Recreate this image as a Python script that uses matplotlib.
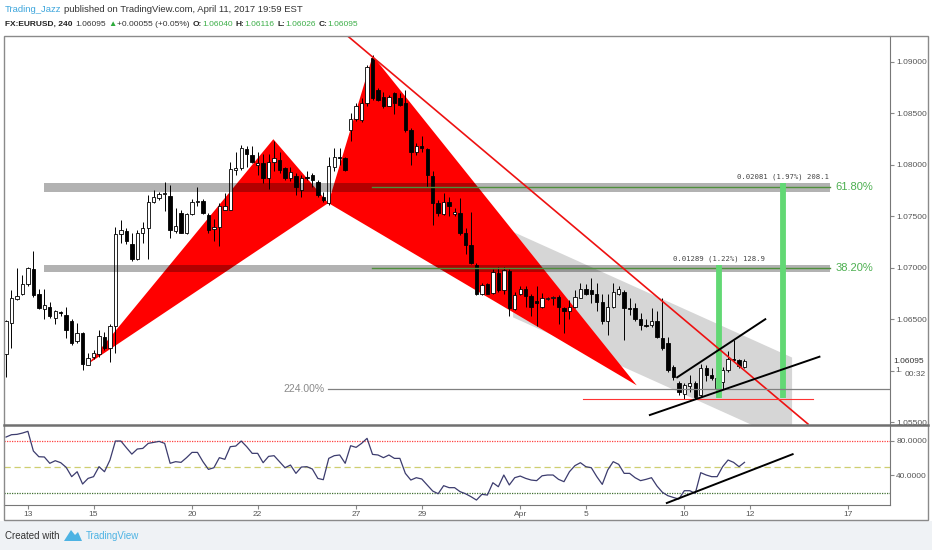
import numpy as np
import matplotlib.pyplot as plt
from matplotlib import font_manager
from matplotlib.patches import Rectangle, Polygon
from matplotlib.lines import Line2D

plt.rcParams['font.family'] = ['Liberation Sans', 'DejaVu Sans']
installed = {f.name for f in font_manager.fontManager.ttflist}
head_font = 'Liberation Sans Narrow' if 'Liberation Sans Narrow' in installed else 'Liberation Sans'

# EURUSD 240 candles
opens = [1.0616, 1.0647, 1.0670, 1.0675, 1.0684, 1.0699, 1.0675, 1.0660, 1.0662, 1.0651,
         1.0657, 1.0654, 1.0648, 1.0629, 1.0637, 1.0606, 1.0614, 1.0616, 1.0633, 1.0622,
         1.0644, 1.0733, 1.0736, 1.0723, 1.0709, 1.0734, 1.0739, 1.0764, 1.0768, 1.0772,
         1.0770, 1.0736, 1.0753, 1.0734, 1.0752, 1.0764, 1.0765, 1.0751, 1.0738, 1.0740,
         1.0756, 1.0756, 1.0795, 1.0797, 1.0815, 1.0810, 1.0800, 1.0802, 1.0787, 1.0803,
         1.0805, 1.0797, 1.0787, 1.0789, 1.0776, 1.0788, 1.0790, 1.0783, 1.0769, 1.0763,
         1.0798, 1.0808, 1.0807, 1.0834, 1.0845, 1.0844, 1.0860, 1.0904, 1.0873, 1.0866,
         1.0857, 1.0870, 1.0865, 1.0860, 1.0834, 1.0813, 1.0818, 1.0815, 1.0789, 1.0763,
         1.0752, 1.0764, 1.0752, 1.0753, 1.0734, 1.0722, 1.0703, 1.0675, 1.0684, 1.0676,
         1.0695, 1.0679, 1.0697, 1.0660, 1.0675, 1.0680, 1.0673, 1.0668, 1.0662, 1.0670,
         1.0671, 1.0672, 1.0661, 1.0658, 1.0662, 1.0671, 1.0680, 1.0679, 1.0675, 1.0667,
         1.0648, 1.0662, 1.0675, 1.0677, 1.0661, 1.0661, 1.0650, 1.0645, 1.0645, 1.0648,
         1.0632, 1.0627, 1.0604, 1.0588, 1.0578, 1.0585, 1.0588, 1.0577, 1.0603, 1.0596,
         1.0583, 1.0589, 1.0601, 1.0612, 1.0611, 1.0604]
highs = [1.0649, 1.0679, 1.0700, 1.0693, 1.0701, 1.0716, 1.0680, 1.0680, 1.0667, 1.0659,
         1.0658, 1.0662, 1.0650, 1.0647, 1.0638, 1.0617, 1.0620, 1.0640, 1.0638, 1.0646,
         1.0740, 1.0747, 1.0739, 1.0734, 1.0737, 1.0745, 1.0771, 1.0776, 1.0774, 1.0783,
         1.0781, 1.0758, 1.0756, 1.0753, 1.0767, 1.0779, 1.0767, 1.0753, 1.0748, 1.0763,
         1.0773, 1.0803, 1.0813, 1.0819, 1.0818, 1.0818, 1.0813, 1.0811, 1.0811, 1.0823,
         1.0813, 1.0798, 1.0798, 1.0792, 1.0790, 1.0794, 1.0792, 1.0785, 1.0774, 1.0808,
         1.0816, 1.0816, 1.0808, 1.0850, 1.0860, 1.0865, 1.0897, 1.0907, 1.0875, 1.0871,
         1.0868, 1.0871, 1.0870, 1.0873, 1.0836, 1.0821, 1.0828, 1.0816, 1.0794, 1.0766,
         1.0773, 1.0769, 1.0758, 1.0768, 1.0739, 1.0754, 1.0705, 1.0685, 1.0685, 1.0699,
         1.0701, 1.0701, 1.0699, 1.0677, 1.0682, 1.0682, 1.0675, 1.0682, 1.0676, 1.0672,
         1.0673, 1.0674, 1.0662, 1.0669, 1.0679, 1.0685, 1.0684, 1.0690, 1.0685, 1.0675,
         1.0675, 1.0685, 1.0682, 1.0679, 1.0671, 1.0666, 1.0656, 1.0650, 1.0661, 1.0658,
         1.0671, 1.0633, 1.0606, 1.0590, 1.0588, 1.0596, 1.0590, 1.0607, 1.0606, 1.0603,
         1.0598, 1.0604, 1.0619, 1.0630, 1.0612, 1.06116]
lows = [1.0594, 1.0622, 1.0669, 1.0674, 1.0682, 1.0672, 1.0660, 1.0650, 1.0651, 1.0646,
        1.0653, 1.0632, 1.0625, 1.0627, 1.0601, 1.0606, 1.0612, 1.0614, 1.0620, 1.0609,
        1.0617, 1.0724, 1.0723, 1.0707, 1.0708, 1.0724, 1.0709, 1.0763, 1.0766, 1.0755,
        1.0729, 1.0734, 1.0734, 1.0733, 1.0751, 1.0760, 1.0752, 1.0734, 1.0726, 1.0721,
        1.0756, 1.0756, 1.0790, 1.0795, 1.0798, 1.0802, 1.0790, 1.0782, 1.0777, 1.0794,
        1.0792, 1.0785, 1.0784, 1.0771, 1.0769, 1.0785, 1.0779, 1.0769, 1.0764, 1.0761,
        1.0794, 1.0800, 1.0794, 1.0823, 1.0843, 1.0842, 1.0857, 1.0863, 1.0862, 1.0855,
        1.0857, 1.0849, 1.0857, 1.0832, 1.0800, 1.0810, 1.0813, 1.0779, 1.0742, 1.0750,
        1.0751, 1.0750, 1.0750, 1.0732, 1.0714, 1.0704, 1.0674, 1.0674, 1.0675, 1.0675,
        1.0677, 1.0675, 1.0653, 1.0659, 1.0674, 1.0662, 1.0653, 1.0644, 1.0661, 1.0669,
        1.0664, 1.0646, 1.0637, 1.0650, 1.0661, 1.0671, 1.0674, 1.0666, 1.0658, 1.0646,
        1.0635, 1.0661, 1.0674, 1.0630, 1.0654, 1.0648, 1.0640, 1.0643, 1.0643, 1.0632,
        1.0620, 1.0599, 1.0591, 1.0577, 1.0573, 1.0580, 1.0573, 1.0575, 1.0590, 1.0591,
        1.0582, 1.0582, 1.0599, 1.0609, 1.0603, 1.06026]
closes = [1.0648, 1.0671, 1.0673, 1.0684, 1.0700, 1.0674, 1.0661, 1.0664, 1.0653, 1.0658,
          1.0656, 1.0640, 1.0627, 1.0637, 1.0607, 1.0613, 1.0617, 1.0634, 1.0622, 1.0644,
          1.0733, 1.0737, 1.0726, 1.0709, 1.0734, 1.0739, 1.0764, 1.0769, 1.0772, 1.0773,
          1.0737, 1.0741, 1.0734, 1.0752, 1.0764, 1.0765, 1.0753, 1.0737, 1.0740, 1.0760,
          1.0760, 1.0796, 1.0797, 1.0816, 1.0811, 1.0803, 1.0802, 1.0787, 1.0803, 1.0807,
          1.0795, 1.0787, 1.0793, 1.0779, 1.0787, 1.0787, 1.0785, 1.0771, 1.0766, 1.0799,
          1.0808, 1.0807, 1.0795, 1.0845, 1.0857, 1.0860, 1.0895, 1.0865, 1.0863, 1.0857,
          1.0866, 1.0860, 1.0858, 1.0834, 1.0813, 1.0818, 1.0816, 1.0790, 1.0763, 1.0753,
          1.0764, 1.0760, 1.0754, 1.0734, 1.0722, 1.0705, 1.0675, 1.0683, 1.0675, 1.0696,
          1.0679, 1.0698, 1.0661, 1.0674, 1.0680, 1.0673, 1.0662, 1.0666, 1.0671, 1.0671,
          1.0672, 1.0662, 1.0658, 1.0662, 1.0672, 1.0680, 1.0675, 1.0675, 1.0667, 1.0648,
          1.0662, 1.0677, 1.0680, 1.0661, 1.0660, 1.0650, 1.0645, 1.0644, 1.0648, 1.0633,
          1.0622, 1.0601, 1.0594, 1.0580, 1.0586, 1.0588, 1.0575, 1.0603, 1.0596, 1.0593,
          1.0593, 1.0601, 1.0612, 1.0611, 1.0605, 1.06095]
rsi = [84.2, 86.9, 87.3, 88.8, 90.8, 68.1, 61.5, 61.2, 53.9, 56.9,
       54.6, 49.2, 38.5, 44.2, 30.0, 36.5, 38.5, 50.0, 44.2, 57.7,
       79.6, 79.6, 71.9, 64.5, 70.4, 71.1, 76.9, 78.1, 79.2, 76.9,
       53.9, 55.8, 55.0, 60.4, 66.5, 66.5, 55.8, 46.9, 48.8, 60.4,
       58.5, 73.1, 73.8, 79.6, 73.1, 65.4, 65.4, 54.6, 61.9, 62.7,
       55.8, 48.8, 51.9, 42.3, 49.6, 50.0, 47.3, 36.5, 35.0, 59.6,
       62.7, 63.5, 53.9, 74.2, 72.3, 76.9, 82.7, 64.2, 63.5, 60.4,
       63.5, 59.6, 59.6, 42.3, 34.6, 37.3, 35.8, 28.9, 21.9, 18.8,
       28.1, 25.8, 25.8, 21.2, 18.8, 15.4, 11.5, 18.1, 17.3, 31.5,
       26.9, 40.4, 28.9, 37.3, 39.2, 36.5, 34.6, 33.9, 39.5, 40.4,
       40.4, 35.4, 32.7, 44.2, 51.2, 54.6, 50.0, 48.8, 38.5, 29.6,
       46.2, 55.8, 52.7, 42.3, 42.3, 37.3, 33.9, 35.4, 37.3, 27.7,
       20.4, 16.5, 14.5, 12.7, 22.3, 22.3, 19.2, 43.1, 40.4, 38.5,
       38.5, 50.0, 57.7, 55.0, 50.0, 55.0]

day_labels = ['13', '15', '20', '22', '27', '29', 'Apr', '5', '10', '12', '17']
day_bars = [4, 16, 34, 46, 64, 76, 94, 106, 124, 136, 154]
price_ticks = [1.055, 1.060, 1.065, 1.070, 1.075, 1.080, 1.085, 1.090]
rsi_ticks = [40, 80]
last_price = 1.06095

# drawings (bar index, price)
xab_x = [15.05, 48.87, 58.92]
xab_y = [1.0607, 1.0825, 1.0763]
bcd_x = [58.92, 67.04, 115.3]
bcd_y = [1.0763, 1.0906, 1.0586]
channel_x = [92.7, 143.7, 143.7, 92.7]
channel_y = [1.0735, 1.0613, 1.0530, 1.0652]
fib_levels = [1.0700, 1.0779]
fib_names = ['38.20%', '61.80%']
band_lo = [1.0696, 1.0774]
band_hi = [1.0703, 1.0782]
range_bar_x = [130.3, 142.1]
range_base = 1.05737
range_text = ['0.01289 (1.22%) 128.9', '0.02081 (1.97%) 208.1']
red_trend_x = [62.5, 146.6]
red_trend_y = [1.0925, 1.05485]
wedge_top_x = [122.7, 138.8]
wedge_top_y = [1.05938, 1.06502]
wedge_bot_x = [117.7, 148.7]
wedge_bot_y = [1.05572, 1.06138]
ext_level = 1.05822
stop_level = 1.05725
rsi_trend_x = [120.8, 143.8]
rsi_trend_y = [8.1, 64.4]

W, H = 932, 550
fig = plt.figure(figsize=(W / 100, H / 100), dpi=100)
fig.patch.set_facecolor('white')


def box(x0, y0, x1, y1):
    return [x0 / W, 1 - y1 / H, (x1 - x0) / W, (y1 - y0) / H]


ax = fig.add_axes(box(4, 36, 890, 425))
ax2 = fig.add_axes(box(4, 425, 890, 505), sharex=ax)
x = np.arange(len(opens))

# gray channel, then the harmonic pattern, candles on top
ax.add_patch(Polygon(list(zip(channel_x, channel_y)), closed=True, fc='#d6d6d6', ec='none', zorder=1))
ax.fill(xab_x, xab_y, color='#ff0000', zorder=2, lw=0)
ax.fill(bcd_x, bcd_y, color='#ff0000', zorder=2, lw=0)

o = np.array(opens); c = np.array(closes)
up = c >= o
ax.vlines(x, lows, highs, color='black', lw=0.7, zorder=3)
ax.bar(x, np.maximum(np.abs(c - o), 0.00004), bottom=np.minimum(o, c), width=0.62,
       color=np.where(up, 'white', 'black'), edgecolor='black', linewidth=0.6, zorder=4)

# zones / fib levels
for lo, hi in zip(band_lo, band_hi):
    ax.add_patch(Rectangle((6.95, lo), 150.6 - 6.95, hi - lo, fc='black', alpha=0.3, ec='none', zorder=5))
for lvl, name in zip(fib_levels, fib_names):
    ax.plot([66.9, 150.6], [lvl, lvl], color='#4f8f3c', lw=1, zorder=6)
    ax.text(151.6, lvl, name, color='#4caf50', fontsize=8, va='center', ha='left', zorder=7)

# price range bars
for bx, top, txt in zip(range_bar_x, band_hi, range_text):
    ax.vlines(bx, range_base, top, color='#62d874', lw=4.2, zorder=6)
    ax.text(bx, top + 0.0003, txt, fontsize=5.2, family='DejaVu Sans Mono', color='#444444',
            ha='center', va='bottom', zorder=7)

ax.plot(red_trend_x, red_trend_y, color='#ee1111', lw=1.2, zorder=6)
ax.plot([105.5, 147.5], [stop_level, stop_level], color='#ff3333', lw=0.8, zorder=6)
ax.plot([58.9, 162], [ext_level, ext_level], color='#808080', lw=0.9, zorder=6)
ax.text(58.3, ext_level, '224.00%', color='#8a8a8a', fontsize=7.5, ha='right', va='center')
ax.plot(wedge_top_x, wedge_top_y, color='black', lw=1.4, zorder=7)
ax.plot(wedge_bot_x, wedge_bot_y, color='black', lw=1.4, zorder=7)

ax.set_xlim(-0.37, 161.6)
ax.set_ylim(1.05475, 1.09252)

# RSI panel
ax2.axhline(80, color='#ff4040', ls=(0, (1, 1)), lw=0.9)
ax2.axhline(50, color='#cfcf70', ls=(0, (5, 3)), lw=0.9)
ax2.axhline(20, color='#3f6f30', ls=(0, (1, 1)), lw=0.9)
ax2.plot(x, rsi, color='#3c3c6e', lw=0.9)
ax2.plot(rsi_trend_x, rsi_trend_y, color='black', lw=1.4)
ax2.set_ylim(5.8, 98.1)

for a in (ax, ax2):
    for s in a.spines.values():
        s.set_visible(False)
    a.spines['right'].set_visible(True)
    a.spines['right'].set_color('#777777')
    a.yaxis.tick_right()
    a.tick_params(axis='y', length=3, color='#888888', labelsize=6, labelcolor='#555555', pad=1.5)
ax2.spines['bottom'].set_visible(True)
ax2.spines['bottom'].set_color('#777777')

ax.set_yticks(price_ticks)
# the 1.06000 label sits under the last-price / countdown labels
ax.set_yticklabels(['' if abs(p - 1.06) < 1e-9 else '%.5f' % p for p in price_ticks])
ax.tick_params(axis='x', bottom=False, labelbottom=False)
ax2.set_yticks(rsi_ticks)
ax2.set_yticklabels(['%.4f' % r for r in rsi_ticks])
ax2.set_xticks(day_bars)
ax2.set_xticklabels(day_labels)
ax2.tick_params(axis='x', length=3, color='#888888', labelsize=6, labelcolor='#555555', pad=1.5)

yt = ax.get_yaxis_transform()
ax.text(1.0035, last_price, '1.06095', transform=yt, fontsize=6, color='#333333', va='center', ha='left')
ax.text(1.0055, 1.0600, '1.', transform=yt, fontsize=6, color='#555555', va='center', ha='left')
ax.text(1.0160, 1.0597, '00:32', transform=yt, fontsize=6, color='#555555', va='center', ha='left')

# frame and panel separator
fig.add_artist(Rectangle((0, 0), 1, 1 - 521 / H, transform=fig.transFigure, fc='#eff2f5', ec='none', zorder=0))
fig.add_artist(Rectangle((4 / W, 1 - 520 / H), 924 / W, 484 / H, transform=fig.transFigure,
                         fill=False, ec='#8a8a8a', lw=1))
fig.add_artist(Line2D([4 / W, 928 / W], [1 - 425 / H, 1 - 425 / H], color='#707070', lw=1.8))

# header: pieces laid out one after another, scaled to the reference width
renderer = fig.canvas.get_renderer()


def write_line(pieces, x0, y, width, size=7.0):
    for attempt in range(2):
        texts = []
        cur = x0
        for s, col, bold, gap in pieces:
            t = fig.text(cur / W, 1 - y / H, s, color=col, fontsize=size, va='center',
                         fontweight='bold' if bold else 'normal',
                         family=[head_font, 'DejaVu Sans'])
            texts.append(t)
            bb = t.get_window_extent(renderer=renderer)
            cur = bb.x1 + gap
        if attempt == 0:
            total = cur - x0
            for t in texts:
                t.remove()
            size = size * width / total


write_line([('Trading_Jazz', '#3ea6dc', False, 3),
            ('published on TradingView.com, April 11, 2017 19:59 EST', '#333333', False, 0)],
           5, 9, 297)
write_line([('FX:EURUSD, 240', '#222222', True, 3),
            ('1.06095', '#333333', False, 2),
            ('\u25b2', '#2eab3c', False, 1),
            ('+0.00055 (+0.05%)', '#333333', False, 3),
            ('O:', '#222222', True, 0), ('1.06040', '#3cae48', False, 3),
            ('H:', '#222222', True, 0), ('1.06116', '#3cae48', False, 3),
            ('L:', '#222222', True, 0), ('1.06026', '#3cae48', False, 3),
            ('C:', '#222222', True, 0), ('1.06095', '#3cae48', False, 0)],
           5, 24, 349)

# footer
fig.text(5 / W, 1 - 536 / H, 'Created with', color='#333333', fontsize=7, va='center')
fig.add_artist(Polygon([(64 / W, 1 - 541 / H), (71 / W, 1 - 530 / H), (75 / W, 1 - 535 / H),
                        (78 / W, 1 - 532 / H), (82 / W, 1 - 541 / H)], closed=True,
                       transform=fig.transFigure, fc='#4db3e3', ec='none'))
fig.text(86 / W, 1 - 536 / H, 'TradingView', color='#4db3e3', fontsize=7, va='center')

fig.savefig('out.png', dpi=100)
